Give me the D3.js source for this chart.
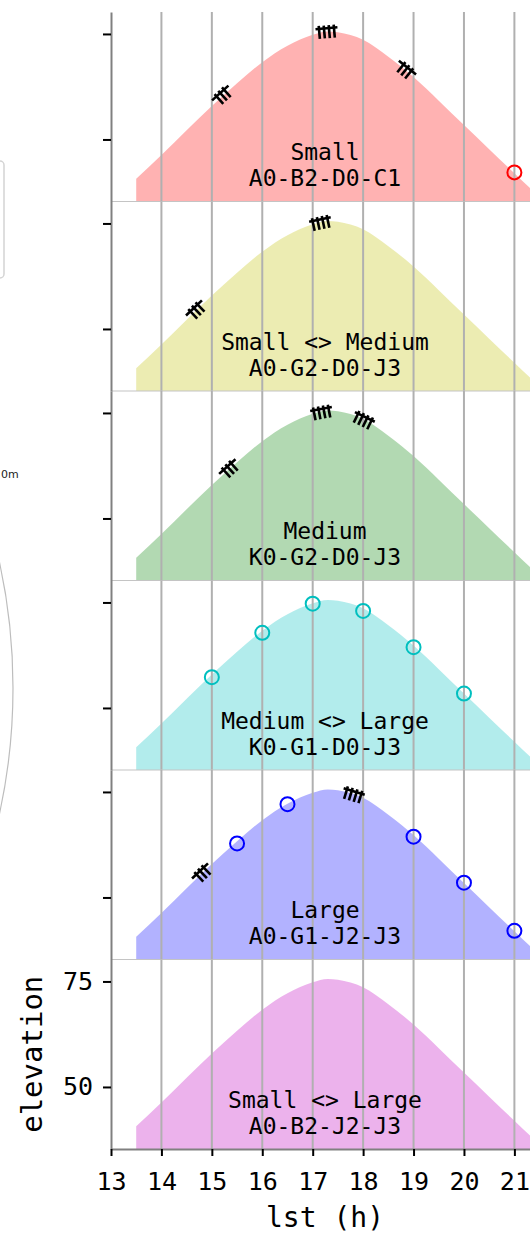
<!DOCTYPE html>
<html>
<head>
<meta charset="utf-8">
<script src="https://d3js.org/d3.v7.min.js"></script>
<style>
  body { margin: 0; background: #fff; }
  svg { display: block; }
  text { font-family: "DejaVu Sans Mono", monospace; fill: #000; }
</style>
</head>
<body>
<svg id="chart" width="530" height="1234"></svg>
<script>
// elevation curve (same source in every panel)
var lst = [13.5, 14, 14.5, 15, 15.5, 16, 16.5, 17, 17.3, 17.5, 18, 18.5, 19, 19.5, 20, 20.5, 21, 21.5];
var elevation = [40.7, 46.3, 52.2, 57.9, 63.3, 68.3, 72.2, 74.8, 75.6, 75.4, 73.6, 69.6, 64.8, 59.2, 53.4, 47.7, 42.0, 36.3];

// panels
var panelNames = ["Small", "Small <> Medium", "Medium", "Medium <> Large", "Large", "Small <> Large"];
var panelCodes = ["A0-B2-D0-C1", "A0-G2-D0-J3", "K0-G2-D0-J3", "K0-G1-D0-J3", "A0-G1-J2-J3", "A0-B2-J2-J3"];
var panelColors = ["#ff0000", "#bfbf00", "#008000", "#00bfbf", "#0000ff", "#bf00bf"];

// barb markers
var barbPanel = [0, 0, 0, 1, 1, 2, 2, 2, 4, 4];
var barbLst   = [15.22, 17.28, 18.83, 14.7, 17.16, 15.36, 17.18, 18.0, 14.82, 17.8];
var barbElev  = [60.3, 75.4, 66.3, 54.3, 75.0, 61.6, 75.0, 73.2, 55.6, 74.2];
var barbCount = [3, 4, 3, 3, 4, 3, 4, 4, 3, 4];

// open circles
var circlePanel = [0, 3, 3, 3, 3, 3, 3, 4, 4, 4, 4, 4];
var circleLst   = [21, 15, 16, 17, 18, 19, 20, 15.5, 16.5, 19, 20, 21];
var circleElev  = [42.2, 57.3, 67.8, 74.7, 73.0, 64.4, 53.4, 62.8, 72.1, 64.4, 53.5, 42.1];

var xTicks = [13, 14, 15, 16, 17, 18, 19, 20, 21];
var yTicks = [50, 75];

var svg = d3.select("#chart");

// cut-off pieces of the neighbouring plot on the left
svg.append("rect")
   .attr("x", -40).attr("y", 161).attr("width", 44).attr("height", 117)
   .attr("rx", 4)
   .attr("fill", "#fff").attr("stroke", "#d4d4d4").attr("stroke-width", 1.5);
svg.append("text")
   .attr("x", 1).attr("y", 478)
   .style("font-family", "DejaVu Sans, sans-serif")
   .style("font-size", "11px")
   .style("fill", "#222")
   .text("0m");
svg.append("circle")
   .attr("cx", -575).attr("cy", 688).attr("r", 588)
   .attr("fill", "none").attr("stroke", "#bdbdbd").attr("stroke-width", 1.2);

var top0 = 12, panelH = 189.5;
var x = d3.scaleLinear().domain([13, 21.5]).range([111, 539.6]);
var elevAt = d3.scaleLinear().domain(lst).range(elevation);

var curveData = lst.map(function(d, i) { return {lst: d, el: elevation[i]}; });

panelNames.forEach(function(name, p) {
    var top = top0 + p * panelH;
    var y = d3.scaleLinear().domain([35.3, 80.2]).range([top + panelH, top]);
    var g = svg.append("g");

    var area = d3.area()
        .curve(d3.curveMonotoneX)
        .x(function(d) { return x(d.lst); })
        .y0(top + panelH)
        .y1(function(d) { return y(d.el); });

    g.append("path")
        .datum(curveData)
        .attr("d", area)
        .attr("fill", panelColors[p])
        .attr("fill-opacity", 0.3);

    // vertical grid
    g.selectAll(".grid")
        .data(xTicks.slice(1))
        .enter().append("line")
        .attr("x1", function(d) { return x(d); })
        .attr("x2", function(d) { return x(d); })
        .attr("y1", top)
        .attr("y2", top + panelH)
        .attr("stroke", "#b0b0b0")
        .attr("stroke-width", 2);

    // panel bottom line
    if (p < panelNames.length - 1) {
        g.append("line")
            .attr("x1", x(13)).attr("x2", 530)
            .attr("y1", top + panelH).attr("y2", top + panelH)
            .attr("stroke", "#c4c4c4").attr("stroke-width", 1.2);
    }

    g.append("text")
        .attr("x", 325).attr("y", top + 148)
        .attr("text-anchor", "middle")
        .style("font-size", "23px")
        .text(name);
    g.append("text")
        .attr("x", 325).attr("y", top + 174)
        .attr("text-anchor", "middle")
        .style("font-size", "23px")
        .text(panelCodes[p]);

    // left axis
    var ax = d3.axisLeft(y).tickValues(yTicks).tickSize(8).tickSizeOuter(0).tickPadding(10);
    if (p < panelNames.length - 1) ax.tickFormat("");
    var axg = g.append("g")
        .attr("transform", "translate(" + x(13) + ",0)")
        .call(ax);
    axg.select(".domain").attr("stroke", "#808080").attr("stroke-width", 2);
    axg.selectAll(".tick line").attr("stroke", "#000").attr("stroke-width", 2);
    axg.selectAll(".tick text")
        .style("font-family", "DejaVu Sans Mono, monospace")
        .style("font-size", "25px");

    // barbs
    barbPanel.forEach(function(bp, i) {
        if (bp !== p) return;
        var cx = x(barbLst[i]), cy = y(barbElev[i]);
        var xa = x(barbLst[i] - 0.15), ya = y(elevAt(barbLst[i] - 0.15));
        var xb = x(barbLst[i] + 0.15), yb = y(elevAt(barbLst[i] + 0.15));
        var ang = Math.atan2(yb - ya, xb - xa);
        var tx = Math.cos(ang), ty = Math.sin(ang);
        var nx = -ty, ny = tx;
        var sx = cx - 4 * nx, sy = cy - 4 * ny;
        var len = 22;
        var bg = g.append("g")
            .attr("stroke", "#000")
            .attr("stroke-width", 2.6)
            .attr("stroke-linecap", "butt");
        bg.append("line")
            .attr("x1", sx - tx * len / 2).attr("y1", sy - ty * len / 2)
            .attr("x2", sx + tx * len / 2).attr("y2", sy + ty * len / 2);
        var n = barbCount[i], sp = 5;
        for (var k = 0; k < n; k++) {
            var off = (k - (n - 1) / 2) * sp;
            var bx = sx + tx * off, by = sy + ty * off;
            bg.append("line")
                .attr("x1", bx - nx * 3).attr("y1", by - ny * 3)
                .attr("x2", bx + nx * 10).attr("y2", by + ny * 10);
        }
    });

    // circles
    g.selectAll(".pt")
        .data(circleLst.map(function(d, i) { return {lst: d, el: circleElev[i], p: circlePanel[i]}; })
              .filter(function(d) { return d.p === p; }))
        .enter().append("circle")
        .attr("cx", function(d) { return x(d.lst); })
        .attr("cy", function(d) { return y(d.el); })
        .attr("r", 7)
        .attr("fill", "none")
        .attr("stroke", panelColors[p])
        .attr("stroke-width", 2);
});

// bottom axis
var bottom = top0 + 6 * panelH;
var xg = svg.append("g")
    .attr("transform", "translate(0," + bottom + ")")
    .call(d3.axisBottom(x).tickValues(xTicks).tickSize(7).tickSizeOuter(0).tickPadding(16));
xg.select(".domain").attr("stroke", "#808080").attr("stroke-width", 2);
xg.selectAll(".tick line").attr("stroke", "#000").attr("stroke-width", 2);
xg.selectAll(".tick text")
    .style("font-family", "DejaVu Sans Mono, monospace")
    .style("font-size", "25px");

svg.append("text")
    .attr("x", 325).attr("y", 1227)
    .attr("text-anchor", "middle")
    .style("font-size", "28px")
    .text("lst (h)");

svg.append("text")
    .attr("transform", "translate(42," + (top0 + 5.5 * panelH) + ") rotate(-90)")
    .attr("text-anchor", "middle")
    .style("font-size", "29px")
    .text("elevation");
</script>
</body>
</html>
